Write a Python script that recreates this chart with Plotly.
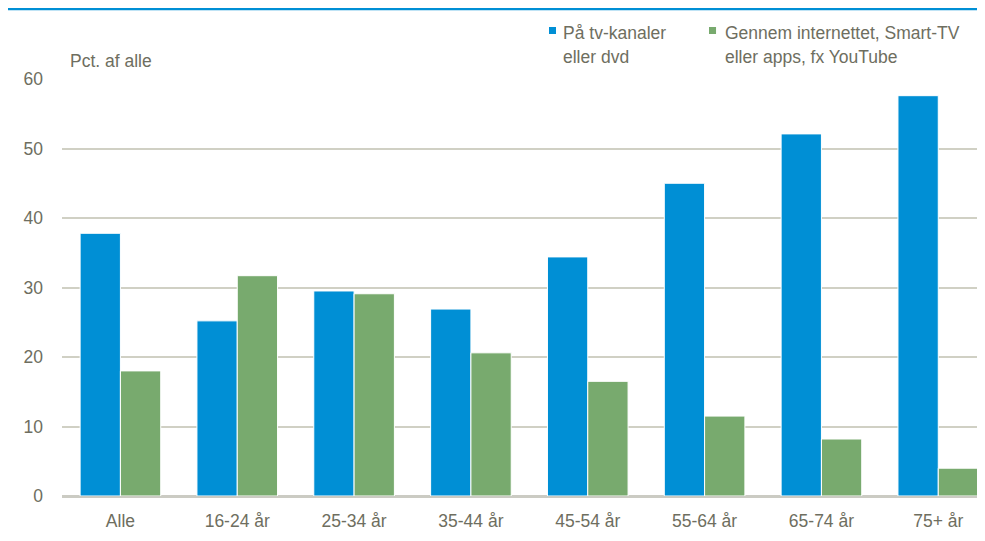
import plotly.graph_objects as go

categories = ["Alle", "16-24 år", "25-34 år", "35-44 år", "45-54 år", "55-64 år", "65-74 år", "75+ år"]
tv_values = [37.8, 25.2, 29.5, 26.9, 34.4, 45.0, 52.1, 57.6]
internet_values = [18.0, 31.7, 29.1, 20.6, 16.5, 11.5, 8.2, 4.0]
tv_label_lines = ["På tv-kanaler", "eller dvd"]
internet_label_lines = ["Gennem internettet, Smart-TV", "eller apps, fx YouTube"]
y_ticks = [0, 10, 20, 30, 40, 50, 60]

BLUE = "#008fd5"
GREEN = "#78aa6e"
TEXT = "#6e6e60"
FONT = "Liberation Sans, Arial, sans-serif"
FS = 17.5

fig = go.Figure()
fig.add_trace(go.Bar(x=list(range(len(categories))), y=tv_values, name=" ".join(tv_label_lines),
                     marker=dict(color=BLUE, line=dict(color="white", width=1))))
fig.add_trace(go.Bar(x=list(range(len(categories))), y=internet_values, name=" ".join(internet_label_lines),
                     marker=dict(color=GREEN, line=dict(color="white", width=1))))

annotations = [dict(text="Pct. af alle", xref="paper", yref="paper", x=0.0065, y=1.0432,
                    xanchor="left", yanchor="middle", showarrow=False,
                    font=dict(size=FS, color=TEXT))]
legend_x = [0.5406, 0.7161]
line_y = [1.1103, 1.0528]
for lx, lines in zip(legend_x, [tv_label_lines, internet_label_lines]):
    for ly, t in zip(line_y, lines):
        annotations.append(dict(text=t, xref="paper", yref="paper", x=lx, y=ly,
                                xanchor="left", yanchor="middle", showarrow=False,
                                font=dict(size=FS, color=TEXT)))

shapes = [dict(type="line", xref="paper", yref="paper", x0=-0.0607, x1=1.0, y0=1.1679, y1=1.1679,
               line=dict(color=BLUE, width=2.5))]
for (x0, x1), col in zip([(0.5276, 0.5352), (0.7010, 0.7086)], [BLUE, GREEN]):
    shapes.append(dict(type="rect", xref="paper", yref="paper", x0=x0, x1=x1, y0=1.1079, y1=1.1247,
                       fillcolor=col, line=dict(width=0)))

fig.update_layout(
    width=977, height=533,
    margin=dict(l=54, r=0, t=71, b=45, pad=0),
    paper_bgcolor="white", plot_bgcolor="white",
    font=dict(family=FONT, size=FS, color=TEXT),
    barmode="group", bargap=0.31, bargroupgap=0.0,
    showlegend=False,
    xaxis=dict(range=[-0.5, 7.4], tickvals=list(range(len(categories))), ticktext=categories,
               showgrid=False, zeroline=False, showline=False, ticks="", ticklabelstandoff=12,
               tickfont=dict(size=FS, color=TEXT), fixedrange=True),
    yaxis=dict(range=[0, 60], tickvals=y_ticks, showgrid=True, gridcolor="#d0d0c4", gridwidth=1.5,
               zeroline=True, zerolinecolor="#cbcbc3", zerolinewidth=2.5, showline=False,
               ticks="", ticklabelstandoff=18, tickfont=dict(size=FS, color=TEXT), fixedrange=True),
    shapes=shapes,
    annotations=annotations,
)

fig.write_html("out.html")
